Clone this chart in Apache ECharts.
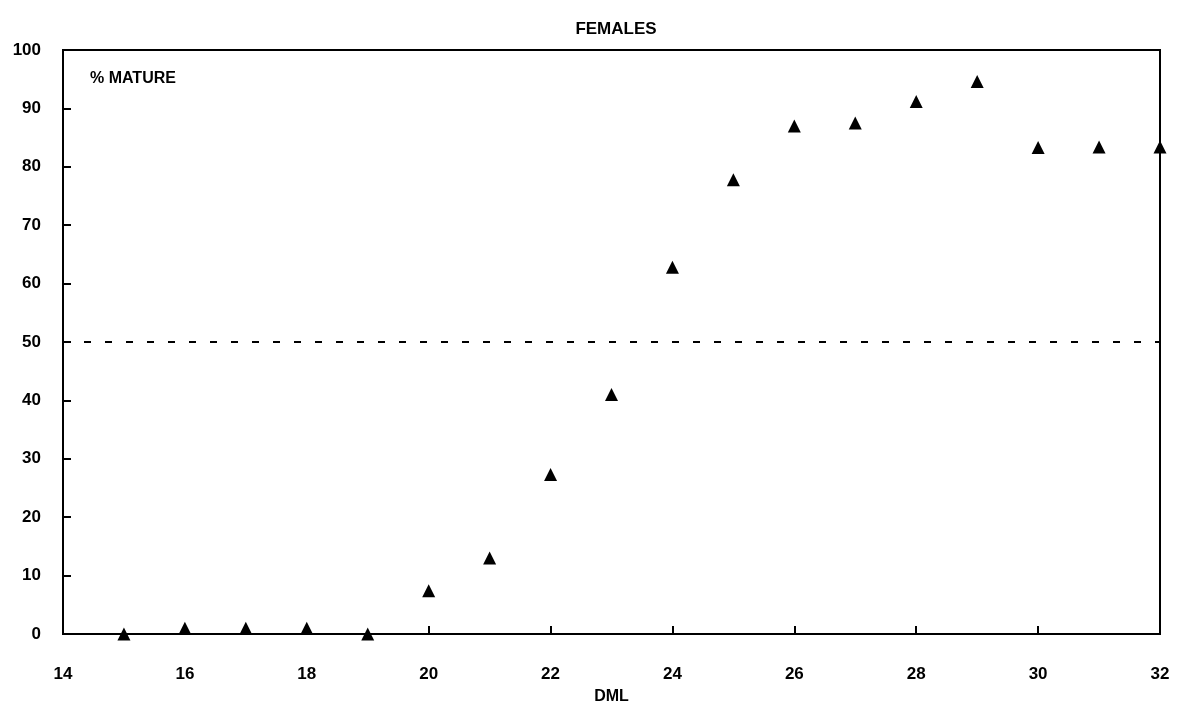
<!DOCTYPE html>
<html>
<head>
<meta charset="utf-8">
<script src="https://cdn.jsdelivr.net/npm/echarts@6/dist/echarts.min.js"></script>
<style>
  html, body { margin: 0; padding: 0; background: #fff; }
  #chart { width: 1180px; height: 713px; }
</style>
</head>
<body>
<div id="chart"></div>
<script>
// DML sizes and percent mature (females)
const dml = [15, 16, 17, 18, 19, 20, 21, 22, 23, 24, 25, 26, 27, 28, 29, 30, 31, 32]
const pctMature = [0, 1, 1, 1, 0, 7.4, 13, 27.3, 41, 62.8, 77.8, 87, 87.5, 91.2, 94.6, 83.3, 83.4, 83.4]
const halfLine = 50

const font = '"Liberation Sans", Arial, sans-serif'
const myChart = echarts.init(document.getElementById('chart'))

myChart.setOption({
  animation: false,
  title: {
    text: 'FEMALES',
    left: 611,
    top: 16,
    textAlign: 'center',
    textStyle: { fontFamily: font, fontSize: 17, fontWeight: 'bold', color: '#000' }
  },
  grid: { left: 63, right: 20, top: 50, bottom: 79, show: true, borderColor: '#000', borderWidth: 2 },
  xAxis: {
    type: 'value',
    min: 14,
    max: 32,
    interval: 2,
    name: 'DML',
    nameLocation: 'middle',
    nameGap: 55,
    nameTextStyle: { fontFamily: font, fontSize: 16, fontWeight: 'bold', color: '#000' },
    axisLine: { lineStyle: { color: '#000', width: 2 } },
    axisTick: { inside: true, length: 8, lineStyle: { color: '#000', width: 2 } },
    axisLabel: { fontFamily: font, fontSize: 17, fontWeight: 'bold', color: '#000', margin: 32 },
    splitLine: { show: false }
  },
  yAxis: {
    type: 'value',
    min: 0,
    max: 100,
    interval: 10,
    axisLine: { show: true, lineStyle: { color: '#000', width: 2 } },
    axisTick: { inside: true, length: 8, lineStyle: { color: '#000', width: 2 } },
    axisLabel: { fontFamily: font, fontSize: 17, fontWeight: 'bold', color: '#000', margin: 22 },
    splitLine: { show: false }
  },
  graphic: [{
    type: 'text',
    left: 90,
    top: 71,
    style: { text: '% MATURE', fontFamily: font, fontSize: 16, fontWeight: 'bold', fill: '#000' }
  }],
  series: [{
    type: 'scatter',
    data: dml.map((d, i) => [d, pctMature[i]]),
    symbol: 'triangle',
    symbolSize: 13,
    itemStyle: { color: '#000', opacity: 1 },
    markLine: {
      silent: true,
      symbol: 'none',
      label: { show: false },
      lineStyle: { color: '#000', type: [7, 14], width: 2 },
      data: [[{ coord: [14, halfLine] }, { coord: [32, halfLine] }]]
    }
  }]
})
</script>
</body>
</html>
